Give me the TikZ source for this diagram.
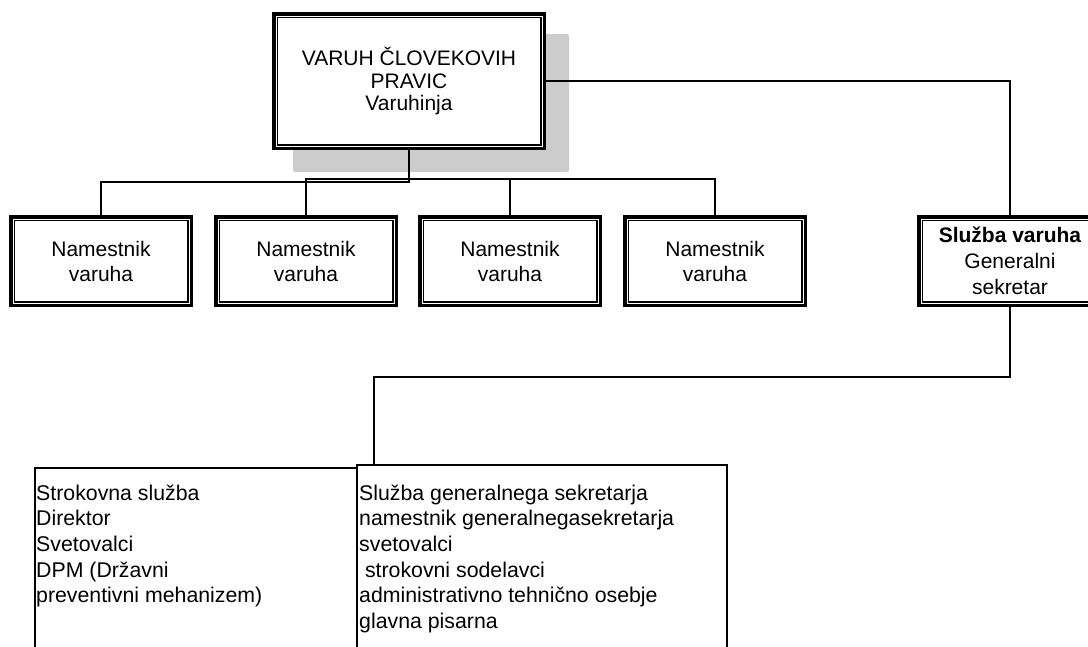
\documentclass[tikz,border=0pt]{standalone}
\usepackage{fontspec}
\setmainfont{Liberation Sans}
\begin{document}
\begin{tikzpicture}[x=1pt,y=-1pt,
  dbox/.style={draw=black, line width=3.5pt, fill=white, inner sep=0pt, align=center},
  nbox/.style={dbox, minimum width=180.5pt, minimum height=88.5pt},
  innerline/.style={draw=black, line width=1.5pt},
  conn/.style={draw=black, line width=1.6pt},
  lowbox/.style={draw=black, line width=2.4pt, inner sep=0pt, anchor=north west},
  ltext/.style={anchor=base west, inner sep=0pt, font=\fontsize{21.3}{25}\selectfont}]
\useasboundingbox (0,0) rectangle (1088,646);
% shadow of the top box
\fill[black!20, rounded corners=2pt] (293,34) rectangle (569,172);
% top box
\node[dbox, minimum width=270.5pt, minimum height=134.5pt,
      font=\fontsize{21}{22.5}\selectfont] (top) at (409,81)
      {VARUH ČLOVEKOVIH\\PRAVIC\\Varuhinja};
% deputies
\foreach \n/\x in {n1/101,n2/306,n3/510,n4/715}
  \node[nbox, font=\fontsize{21}{25}\selectfont] (\n) at (\x,261) {Namestnik\\varuha};
% service
\node[nbox, minimum width=182.5pt, font=\fontsize{21}{26}\selectfont] (n5) at (1010,261)
  {\textbf{Služba varuha}\\Generalni\\sekretar};
% inner lines of the double borders
\foreach \n in {top,n1,n2,n3,n4,n5}
  \draw[innerline] ([xshift=5.25pt,yshift=-5.25pt]\n.north west) rectangle ([xshift=-5.25pt,yshift=5.25pt]\n.south east);
% helper coordinates
\coordinate (h1) at (0,179);
\coordinate (h0) at (0,182);
\coordinate (h2) at (374,377);
% connectors
\draw[conn] (top.south) -- (top.south |- h0) -| (n1.north);
\draw[conn] (n2.north) -- (n2.north |- h1) -- (n4.north |- h1) -- (n4.north);
\draw[conn] (n3.north) -- (n3.north |- h1);
\draw[conn] (top.east) -| (n5.north);
% lower boxes
\node[lowbox, minimum width=322.5pt, minimum height=200pt] (s1) at (33.5,467) {};
\node[lowbox, minimum width=370pt, minimum height=205pt] (s2) at (356,464) {};
\draw[conn] (n5.south) -- (n5.south |- h2) -- (h2) -- (h2 |- s2.north);
% texts of the lower boxes
\foreach \t [count=\i from 0] in {Strokovna služba,Direktor,Svetovalci,DPM (Državni,preventivni mehanizem)}
  \node[ltext] (la\i) at (36,500+25.7*\i) {\t};
\foreach \t [count=\i from 0] in {Služba generalnega sekretarja,namestnik generalnegasekretarja,svetovalci,\hspace{5.8pt}strokovni sodelavci,administrativno tehnično osebje,glavna pisarna}
  \node[ltext] (lb\i) at (359,500+25.7*\i) {\t};
\end{tikzpicture}
\end{document}
